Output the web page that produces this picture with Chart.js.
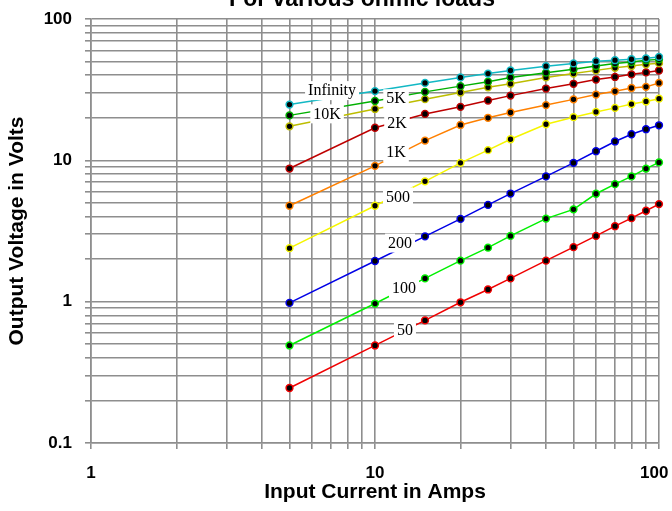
<!DOCTYPE html>
<html>
<head>
<meta charset="utf-8">
<script src="https://cdn.jsdelivr.net/npm/chart.js@4.4.1/dist/chart.umd.min.js"></script>
<style>
html,body{margin:0;padding:0;background:#fff;overflow:hidden}
#wrap{width:672px;height:511px;position:relative}
</style>
</head>
<body>
<div id="wrap"><canvas id="c" width="672" height="511"></canvas></div>
<script>
// ---- data ----
const currents = [5, 10, 15, 20, 25, 30, 40, 50, 60, 70, 80, 90, 100];

const vInfinity = [24.8, 30.9, 35.3, 38.6, 41.1, 43.2, 46.4, 48.5, 50.3, 51.1, 51.9, 52.7, 53.9];
const v10K      = [20.8, 26.3, 30.5, 33.5, 36.0, 38.6, 41.7, 44.1, 46.5, 48.5, 49.6, 51.1, 51.8];
const v5K       = [17.4, 23.1, 27.1, 30.2, 32.9, 34.8, 38.6, 41.1, 43.3, 45.2, 46.5, 47.8, 48.7];
const v2K       = [8.75, 17.0, 21.3, 23.9, 26.5, 28.7, 32.2, 34.8, 37.3, 38.9, 40.6, 41.9, 43.2];
const v1K       = [4.77, 9.14, 13.8, 17.8, 20.0, 21.8, 24.6, 27.0, 29.2, 30.8, 32.5, 33.1, 35.3];
const v500      = [2.39, 4.77, 7.1, 9.6, 11.8, 14.1, 18.0, 20.2, 22.0, 23.5, 25.0, 26.1, 27.3];
const v200      = [0.98, 1.94, 2.9, 3.85, 4.84, 5.82, 7.7, 9.6, 11.6, 13.6, 15.3, 16.6, 17.7];
const v100      = [0.49, 0.97, 1.46, 1.95, 2.41, 2.92, 3.87, 4.5, 5.8, 6.78, 7.7, 8.74, 9.67];
const v50       = [0.245, 0.49, 0.737, 0.99, 1.22, 1.46, 1.95, 2.43, 2.92, 3.42, 3.90, 4.40, 4.90];

const loadNames = ['Infinity', '10K', '5K', '2K', '1K', '500', '200', '100', '50'];
const labelAtCurrent = [7.06, 6.78, 11.86, 11.95, 11.86, 12.05, 12.25, 12.65, 12.75];
const labelAtVoltage = [31.4, 21.5, 27.5, 18.3, 11.4, 5.56, 2.62, 1.257, 0.633];

const xTickValues = [1,2,3,4,5,6,7,8,9,10,20,30,40,50,60,70,80,90,100];
const xTickLabels = ['1','','','','','','','','','10','','','','','','','','','100  '];
const yTickValues = [0.1,0.2,0.3,0.4,0.5,0.6,0.7,0.8,0.9,1,2,3,4,5,6,7,8,9,10,20,30,40,50,60,70,80,90,100];
const yTickLabels = ['0.1','','','','','','','','','1','','','','','','','','','10','','','','','','','','','100'];

const titleText = 'For various ohmic loads';
const xTitle = 'Input Current in Amps';
const yTitle = 'Output Voltage in Volts';

// ---- styles ----
const seriesList = [
  {name:'Infinity', values:vInfinity, color:'#12B8C4'},
  {name:'10K', values:v10K, color:'#00B000'},
  {name:'5K', values:v5K, color:'#BDBD00'},
  {name:'2K', values:v2K, color:'#BE0000'},
  {name:'1K', values:v1K, color:'#FF8000'},
  {name:'500', values:v500, color:'#F5F500'},
  {name:'200', values:v200, color:'#0000E6'},
  {name:'100', values:v100, color:'#00F000'},
  {name:'50', values:v50, color:'#F00000'}
];

const gridColor = '#8e8e8e';
const sansBold = (s) => ({family: 'Arial, "Liberation Sans", sans-serif', size: s, weight: 'bold'});

const overlayPlugin = {
  id: 'overlay',
  afterDatasetsDraw(chart) {
    const {ctx} = chart;
    const xs = chart.scales.x, ys = chart.scales.y;
    ctx.save();
    ctx.font = '16px "Liberation Serif", "Times New Roman", serif';
    ctx.textAlign = 'center';
    ctx.textBaseline = 'middle';
    loadNames.forEach((t, i) => {
      const px = xs.getPixelForValue(labelAtCurrent[i]);
      const py = ys.getPixelForValue(labelAtVoltage[i]);
      const w = ctx.measureText(t).width;
      ctx.fillStyle = '#ffffff';
      ctx.fillRect(px - w / 2 - 3, py - 9, w + 6, 19);
      ctx.fillStyle = '#000000';
      ctx.fillText(t, px, py + 1);
    });
    ctx.restore();
  },
  afterDraw(chart) {
    const {ctx} = chart;
    ctx.save();
    ctx.font = 'bold 23px Arial, "Liberation Sans", sans-serif';
    ctx.fillStyle = '#000';
    ctx.textAlign = 'center';
    ctx.textBaseline = 'alphabetic';
    ctx.fillText(titleText, 362, 6);
    ctx.restore();
  }
};

const datasets = seriesList.map(s => ({
  label: s.name,
  data: currents.map((c, i) => ({x: c, y: s.values[i]})),
  borderColor: s.color,
  backgroundColor: s.color,
  borderWidth: 1.5,
  pointRadius: 3.4,
  pointBorderWidth: 1.5,
  pointBackgroundColor: '#000000',
  pointBorderColor: s.color,
  tension: 0,
  clip: false
}));

new Chart(document.getElementById('c'), {
  type: 'line',
  data: {datasets},
  options: {
    responsive: false,
    animation: false,
    devicePixelRatio: 1,
    layout: {padding: {top: 19, right: 13, bottom: 0, left: 0}},
    plugins: {legend: {display: false}, tooltip: {enabled: false}, title: {display: false}},
    scales: {
      x: {
        type: 'logarithmic',
        min: 1, max: 100,
        afterBuildTicks: (s) => { s.ticks = xTickValues.map(v => ({value: v})); },
        afterFit: (s) => { s.height = 68; s.paddingLeft = 0; s.paddingRight = 0; },
        ticks: {
          autoSkip: false, maxRotation: 0, minRotation: 0,
          color: '#000', font: sansBold(17), padding: 14,
          callback: (v, i) => xTickLabels[i]
        },
        grid: {color: gridColor, lineWidth: 1.6, tickLength: 6, drawTicks: true},
        border: {color: gridColor, width: 1.6},
        title: {display: true, text: xTitle, color: '#000', font: sansBold(21), padding: {top: 0, bottom: 6}}
      },
      y: {
        type: 'logarithmic',
        min: 0.1, max: 100,
        afterBuildTicks: (s) => { s.ticks = yTickValues.map(v => ({value: v})); },
        afterFit: (s) => { s.width = 91; s.paddingTop = 0; s.paddingBottom = 0; },
        ticks: {
          autoSkip: false,
          color: '#000', font: sansBold(17), padding: 13,
          callback: (v, i) => yTickLabels[i]
        },
        grid: {color: gridColor, lineWidth: 1.6, tickLength: 6, drawTicks: true},
        border: {color: gridColor, width: 1.6},
        title: {display: true, text: yTitle, color: '#000', font: sansBold(21), padding: {top: 5, bottom: 0}}
      }
    }
  },
  plugins: [overlayPlugin]
});
</script>
</body>
</html>
